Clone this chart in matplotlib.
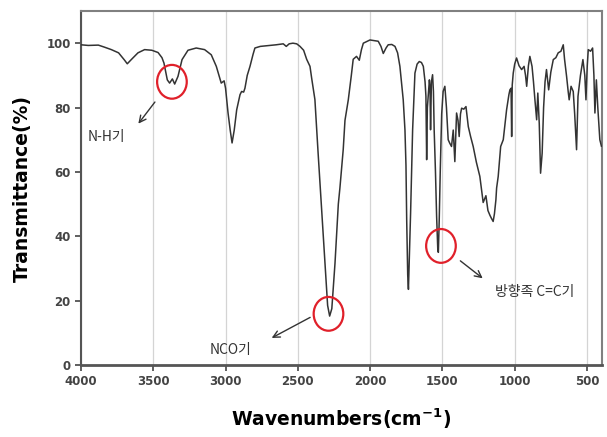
import matplotlib.pyplot as plt
from matplotlib.patches import Ellipse

# FT-IR 스펙트럼
wavenumber = [
    4000, 3950, 3880, 3840, 3790, 3740, 3700, 3680, 3650, 3606, 3560, 3510, 3467, 3440, 3426,
    3403, 3387, 3368, 3352, 3329, 3301, 3260, 3203, 3145, 3099, 3064, 3030, 3010, 3000, 2983,
    2968, 2955, 2940, 2923, 2900, 2889, 2875, 2866, 2850, 2831, 2810, 2797, 2760, 2716, 2650,
    2601, 2580, 2560, 2534, 2508, 2485, 2460, 2439, 2416, 2404, 2382, 2360, 2335, 2312, 2294,
    2280, 2265, 2243, 2220, 2209, 2186, 2174, 2151, 2130, 2117, 2094, 2075, 2060, 2047, 2001,
    1970, 1944, 1925, 1909, 1890, 1875, 1850, 1828, 1810, 1794, 1771, 1759, 1752, 1747, 1740,
    1735, 1728, 1720, 1706, 1690, 1675, 1660, 1645, 1632, 1620, 1614, 1609, 1604, 1598, 1590,
    1586, 1582, 1576, 1568, 1562, 1557, 1548, 1540, 1532, 1528, 1522, 1515, 1505, 1495, 1483,
    1472, 1460, 1450, 1437, 1425, 1414, 1402, 1392, 1384, 1375, 1367, 1352, 1337, 1321, 1305,
    1287, 1265, 1241, 1218, 1199, 1185, 1171, 1160, 1149, 1140, 1130, 1125, 1114, 1097, 1079,
    1056, 1040, 1033, 1025, 1021, 1017, 1010, 1000, 987, 970, 952, 935, 925, 917, 905,
    895, 880, 870, 860, 848, 840, 830, 821, 810, 800, 790, 780, 765, 750, 733,
    715, 699, 680, 664, 655, 641, 630, 623, 610, 595, 585, 572, 562, 545, 528,
    515, 507, 498, 491, 475, 461, 452, 445, 435, 425, 411, 400,
]
transmittance = [
    99.5, 99.3, 99.4, 98.8, 98.0, 97.0, 94.8, 93.6, 95.0, 97.0, 98.0, 97.8, 97.1, 95.5, 93.8,
    88.6, 87.6, 88.9, 87.3, 89.7, 94.9, 97.8, 98.5, 98.0, 96.4, 92.8, 87.6, 88.3, 86.0, 78.4,
    73.0, 69.0, 73.0, 79.3, 84.0, 85.0, 84.8, 86.0, 90.0, 92.8, 96.5, 98.5, 99.0, 99.2, 99.5,
    99.8, 99.0, 99.8, 100.0, 99.8, 99.0, 97.8, 95.0, 92.8, 89.0, 82.5, 66.0, 48.0, 31.6, 18.5,
    15.2, 17.5, 31.6, 50.0, 55.0, 67.0, 76.0, 82.4, 90.0, 95.0, 95.9, 94.7, 98.0, 100.0, 101.0,
    100.8, 100.6, 99.0, 96.8, 98.5, 99.5, 99.6, 99.0, 97.0, 92.8, 82.4, 73.0, 62.0, 45.0, 28.0,
    23.5, 35.0, 47.3, 73.1, 90.7, 93.5, 94.3, 94.0, 92.8, 88.0, 83.5, 63.8, 80.0, 83.5, 88.6,
    86.6, 73.1, 88.0, 90.2, 85.0, 73.1, 60.0, 46.1, 36.0, 35.0, 45.0, 60.0, 78.0, 85.0, 86.6,
    80.0, 70.0, 69.0, 67.9, 73.0, 63.2, 78.3, 76.0, 71.0, 78.0, 79.8, 79.5, 80.3, 74.1, 71.0,
    67.9, 63.0, 58.6, 50.5, 52.6, 48.0, 46.5, 45.5, 44.6, 47.0, 51.3, 55.0, 58.6, 67.9, 70.0,
    79.3, 84.0, 85.5, 86.0, 71.0, 87.0, 90.7, 93.5, 95.4, 93.0, 91.8, 92.8, 90.0, 86.6, 93.0,
    95.9, 92.8, 88.0, 82.4, 76.2, 84.5, 75.0, 59.6, 65.8, 80.0, 88.0, 91.8, 85.5, 91.0, 94.9,
    95.5, 97.0, 97.5, 99.5, 95.0, 89.7, 85.0, 82.4, 86.6, 85.0, 78.0, 66.9, 83.5, 90.0, 94.9,
    90.0, 82.4, 93.0, 98.0, 97.5, 98.5, 90.0, 78.3, 88.6, 80.0, 70.0, 68.0,
]

# 표시된 피크 (원 중심, 화살표 시작/끝, 라벨 위치)
peak_labels = ["N-H기", "NCO기", "방향족 C=C기"]
circle_centers = [(3371, 88.0), (2288, 15.9), (1510, 37.0)]
arrow_starts = [(3477, 82.4), (2398, 15.2), (1391, 32.9)]
arrow_ends = [(3615, 74.3), (2698, 8.0), (1206, 26.4)]
label_pos = [(3952, 70.9), (3108, 4.7), (1137, 22.8)]

x_ticks = [4000, 3500, 3000, 2500, 2000, 1500, 1000, 500]
y_ticks = [0, 20, 40, 60, 80, 100]

kr_font = ['Noto Sans CJK KR', 'DejaVu Sans']

fig = plt.figure(figsize=(6.07, 4.37), dpi=100)
ax = fig.add_axes([81 / 607, 72 / 437, 521 / 607, 354 / 437])

ax.plot(wavenumber, transmittance, color='#333333', lw=1.1, zorder=3)

ax.set_xlim(4000, 396)
ax.set_ylim(0, 110)
ax.set_xticks(x_ticks)
ax.set_yticks(y_ticks)
ax.grid(True, axis='x', color='#d4d4d4', lw=0.9)
ax.set_axisbelow(True)

ax.tick_params(axis='both', labelsize=8.5, labelcolor='#444444', color='#444444', length=4, width=1.2)
for lab in ax.get_xticklabels() + ax.get_yticklabels():
    lab.set_fontweight('bold')

ax.spines['left'].set_color('#555555')
ax.spines['left'].set_linewidth(1.5)
ax.spines['bottom'].set_color('#555555')
ax.spines['bottom'].set_linewidth(2.0)
for s in ['top', 'right']:
    ax.spines[s].set_color('#808080')
    ax.spines[s].set_linewidth(1.5)

ax.set_ylabel('Transmittance(%)', fontsize=13.5, fontweight='bold', labelpad=10)
ax.set_xlabel(r'Wavenumbers(cm$^{\mathbf{-1}}$)', fontsize=13.5, fontweight='bold', labelpad=13)

for i in range(len(peak_labels)):
    ax.add_patch(Ellipse(circle_centers[i], width=205, height=10.5, fill=False,
                         edgecolor='#e0202a', lw=1.6, zorder=4))
    ax.annotate('', xy=arrow_ends[i], xytext=arrow_starts[i],
                arrowprops=dict(arrowstyle='->', color='#333333', lw=1.0, mutation_scale=12))
    ax.text(label_pos[i][0], label_pos[i][1], peak_labels[i], fontsize=10, family=kr_font,
            color='#333333', ha='left', va='center')

plt.savefig('out.png', dpi=100)
plt.close()
